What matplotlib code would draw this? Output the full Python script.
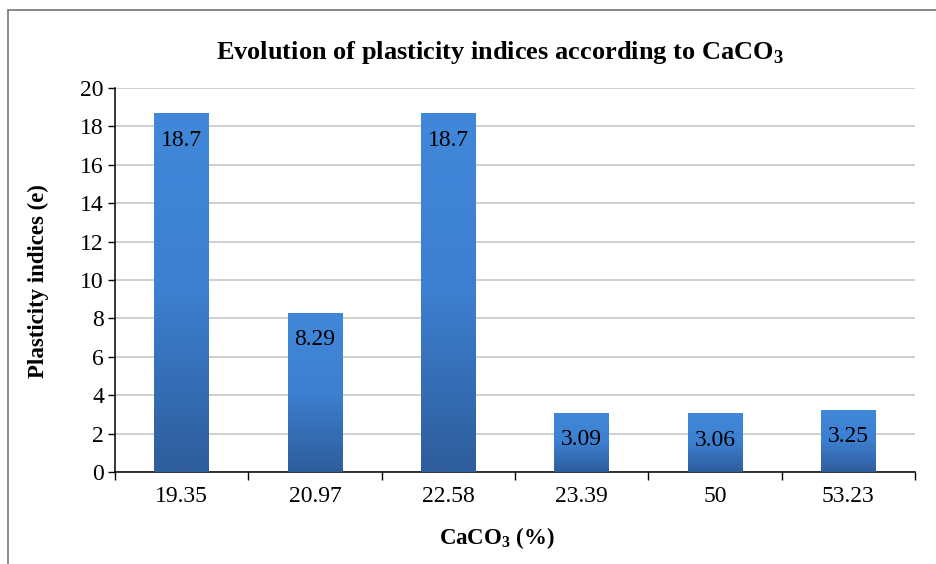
import numpy as np
import matplotlib
matplotlib.use("Agg")
import matplotlib.pyplot as plt
from matplotlib.colors import LinearSegmentedColormap

plt.rcParams['font.family'] = ['Liberation Serif', 'DejaVu Serif']
plt.rcParams['mathtext.fontset'] = 'custom'
plt.rcParams['mathtext.rm'] = 'Liberation Serif'
plt.rcParams['mathtext.bf'] = 'Liberation Serif:bold'

# data
categories = ["19.35", "20.97", "22.58", "23.39", "50", "53.23"]
values = [18.7, 8.29, 18.7, 3.09, 3.06, 3.25]
labels = ["18.7", "8.29", "18.7", "3.09", "3.06", "3.25"]

fig = plt.figure(figsize=(9.36, 5.64), dpi=100)
ax = fig.add_axes([115/936, 1-472/564, 800/936, 384/564])

# outer frame of the chart area (cut off at right and bottom)
frame = plt.Rectangle((8/936, -0.05), 1.2, 1-10/564+0.05, transform=fig.transFigure,
                      fill=False, edgecolor='#808080', linewidth=1.3)
fig.patches.append(frame)

x = np.arange(len(categories))
bars = ax.bar(x, values, width=0.41, color='none', edgecolor='none', zorder=3)

# vertical gradient in each bar, lighter at top
cmap = LinearSegmentedColormap.from_list('blu', ['#2e5d9c', '#3d7fd0', '#4188da'])
grad = np.linspace(0, 1, 256).reshape(-1, 1)
for b in bars:
    x0, y0 = b.get_x(), b.get_y()
    w, h = b.get_width(), b.get_height()
    im = ax.imshow(grad, cmap=cmap, aspect='auto', origin='lower',
                   extent=[x0, x0 + w, y0, y0 + h], zorder=3)
    im.set_clip_path(b)

for xi, v, lab in zip(x, values, labels):
    ax.annotate(lab, (xi, v), xytext=(0, -19.5), textcoords='offset points',
                ha='center', va='center', fontsize=17, zorder=5)

ax.set_xlim(-0.5, len(categories) - 0.5)
ax.set_ylim(0, 20)
ax.set_yticks(range(0, 21, 2))
ax.set_xticks(x)
ax.set_xticklabels(categories)
ax.set_xticks(np.arange(-0.5, len(categories), 1), minor=True)
ax.tick_params(axis='x', which='major', length=0, labelsize=17, pad=10)
ax.tick_params(axis='x', which='minor', length=6, width=1, direction='out')
ax.tick_params(axis='y', length=5, width=1, labelsize=17, pad=3)

ax.grid(axis='y', color='#d0d0d0', linewidth=1.4, zorder=0)
ax.set_axisbelow(True)
for s in ['top', 'right']:
    ax.spines[s].set_visible(False)
ax.spines['left'].set_linewidth(1.1)
ax.spines['bottom'].set_linewidth(1.1)

fig.text(38/936, 1-281/564, "Plasticity indices (e)", fontsize=16.5, fontweight='bold',
         rotation=90, ha='center', va='center')
fig.text(497/936, 1-538/564, r"CaCO$_\mathbf{3}$ (%)", fontsize=16.5, fontweight='bold',
         ha='center', va='center')
fig.text(500/936, 1-53/564, r"Evolution of plasticity indices according to CaCO$_\mathbf{3}$",
         fontsize=19, fontweight='bold', ha='center', va='center')

fig.savefig("out.png", dpi=100)
